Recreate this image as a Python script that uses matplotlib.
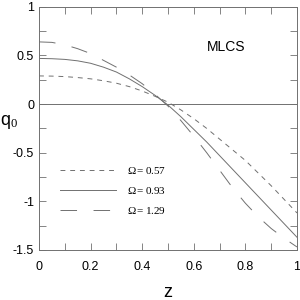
import matplotlib
matplotlib.use("Agg")
import matplotlib.pyplot as plt
from matplotlib.ticker import MultipleLocator

# Data
z = [0.0, 0.05, 0.1, 0.15, 0.2, 0.25, 0.3, 0.35, 0.4, 0.45, 0.5,
     0.55, 0.6, 0.65, 0.7, 0.75, 0.8, 0.85, 0.9, 0.95, 1.0]
q0_057 = [0.29, 0.288, 0.283, 0.273, 0.26, 0.24, 0.215, 0.18, 0.135, 0.08, 0.02,
          -0.06, -0.15, -0.25, -0.36, -0.47, -0.58, -0.71, -0.84, -0.98, -1.12]
q0_093 = [0.47, 0.467, 0.46, 0.445, 0.42, 0.38, 0.33, 0.26, 0.18, 0.09, -0.01,
          -0.13, -0.26, -0.39, -0.53, -0.67, -0.81, -0.95, -1.09, -1.23, -1.37]
q0_129 = [0.64, 0.635, 0.61, 0.57, 0.52, 0.45, 0.38, 0.30, 0.21, 0.10, -0.02,
          -0.17, -0.33, -0.50, -0.68, -0.86, -1.02, -1.16, -1.28, -1.38, -1.47]
labels = [r"$\Omega = 0.57$", r"$\Omega = 0.93$", r"$\Omega = 1.29$"]
xticks = [0, 0.2, 0.4, 0.6, 0.8, 1]
xticklabels = ["0", "0.2", "0.4", "0.6", "0.8", "1"]
yticks = [-1.5, -1, -0.5, 0, 0.5, 1]
yticklabels = ["-1.5", "-1", "-0.5", "0", "0.5", "1"]

plt.rcParams["font.family"] = ["Liberation Sans Narrow", "Liberation Sans", "DejaVu Sans"]
plt.rcParams["mathtext.fontset"] = "custom"
plt.rcParams["mathtext.rm"] = "Liberation Serif"
plt.rcParams["mathtext.it"] = "Liberation Serif"

fig = plt.figure(figsize=(3, 3), dpi=100)
ax = fig.add_axes([0.13, 0.167, 0.86, 0.81])

grey = "#707070"
ax.axhline(0, color=grey, lw=0.7)
ax.plot(z, q0_057, color=grey, lw=0.7, dashes=(5, 5), label=labels[0])
ax.plot(z, q0_093, color=grey, lw=0.7, label=labels[1])
ax.plot(z, q0_129, color=grey, lw=0.7, dashes=(17, 17), label=labels[2])

ax.set_xlim(0, 1)
ax.set_ylim(-1.5, 1)
ax.set_xticks(xticks, xticklabels)
ax.set_yticks(yticks, yticklabels)
ax.xaxis.set_minor_locator(MultipleLocator(0.1))
ax.yaxis.set_minor_locator(MultipleLocator(0.25))
ax.tick_params(which="both", direction="in", top=True, right=True,
               color=grey, width=0.6, length=5, labelsize=9)
ax.tick_params(axis="x", pad=8)
for s in ax.spines.values():
    s.set_color(grey)
    s.set_linewidth(0.7)

ax.set_xlabel("z", fontsize=13, labelpad=8, family="Liberation Sans")
ax.set_ylabel(r"q$_0$", fontsize=13, rotation=0, family="Liberation Sans")
ax.yaxis.set_label_coords(-0.115, 0.49)

ax.text(0.725, 0.835, "MLCS", transform=ax.transAxes, fontsize=10, ha="center", va="center")

ax.legend(loc="upper left", bbox_to_anchor=(0.083, 0.35), frameon=False,
          fontsize=8, handlelength=5, handletextpad=1.0, labelspacing=0.8,
          borderpad=0, borderaxespad=0)

fig.savefig("out.png", dpi=100)
